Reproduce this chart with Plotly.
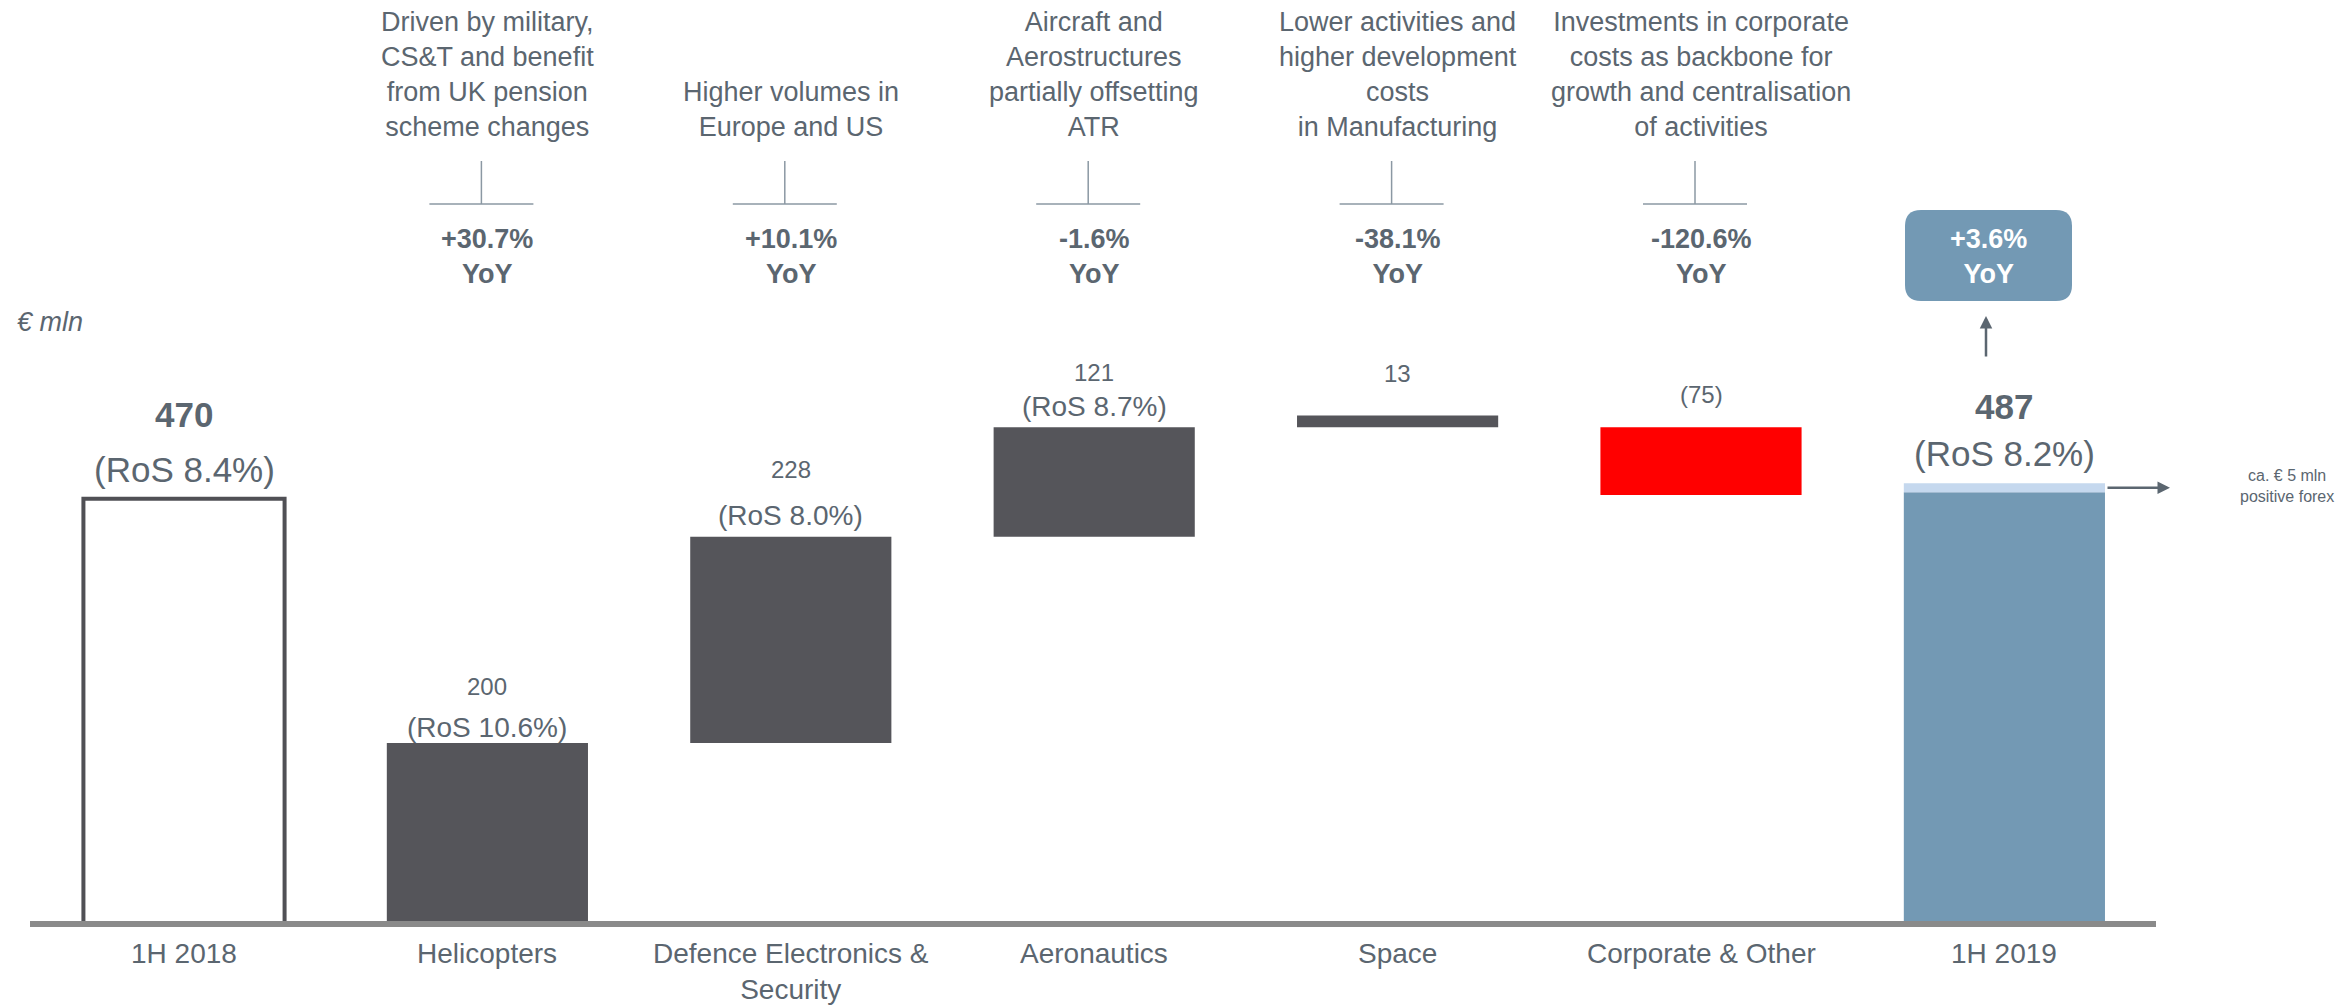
import plotly.graph_objects as go

# ---------------- data ----------------
categories = ["1H 2018", "Helicopters", "Defence Electronics & Security",
              "Aeronautics", "Space", "Corporate & Other", "1H 2019"]
cat_labels = ["1H 2018", "Helicopters", "Defence Electronics &<br>Security",
              "Aeronautics", "Space", "Corporate & Other", "1H 2019"]
start_value = 470
end_value = 487
forex_band = 10          # light band on top of 1H 2019 (as drawn)
delta_values = [200, 228, 121, 13, -75]
delta_bases = [0, 200, 428, 549, 549]
value_labels = ["470", "200", "228", "121", "13", "(75)", "487"]
ros_labels = ["(RoS 8.4%)", "(RoS 10.6%)", "(RoS 8.0%)", "(RoS 8.7%)", None, None, "(RoS 8.2%)"]
yoy_labels = [None, "+30.7%", "+10.1%", "-1.6%", "-38.1%", "-120.6%", "+3.6%"]
notes = [None,
         "Driven by military,<br>CS&T and benefit<br>from UK pension<br>scheme changes",
         "Higher volumes in<br>Europe and US",
         "Aircraft and<br>Aerostructures<br>partially offsetting<br>ATR",
         "Lower activities and<br>higher development<br>costs<br>in Manufacturing",
         "Investments in corporate<br>costs as backbone for<br>growth and centralisation<br>of activities",
         None]

# ---------------- style ----------------
W, H = 2336, 1007
FONT = "Liberation Sans, Arial, sans-serif"
TXT = "#5b6670"
DARK = "#55555a"
RED = "#ff0000"
BLUE = "#7399b4"
LIGHT = "#c5d8ee"
K = 0.905            # px per unit
BASE_PX = 924        # pixel row of zero
STEP = 303.4         # px between categories
X0_PX = 184          # px of first category centre

def px(x):
    return x / W

def py(y):
    return 1 - y / H

y0 = -(H - BASE_PX) / K
y1 = y0 + H / K
xmin = -X0_PX / STEP
xmax = xmin + W / STEP
BW = 0.663

fig = go.Figure()

# start bar
fig.add_trace(go.Bar(x=[categories[0]], y=[start_value], width=BW,
                     marker=dict(color="white", line=dict(color="#505055", width=4))))
# delta bars
fig.add_trace(go.Bar(x=categories[1:6], y=delta_values, base=delta_bases, width=BW,
                     marker=dict(color=[DARK, DARK, DARK, DARK, RED], line=dict(width=0))))
# end bar
fig.add_trace(go.Bar(x=[categories[6]], y=[end_value - forex_band], width=BW,
                     marker=dict(color=BLUE, line=dict(width=0))))
fig.add_trace(go.Bar(x=[categories[6]], y=[forex_band], base=[end_value - forex_band], width=BW,
                     marker=dict(color=LIGHT, line=dict(width=0))))

annotations = []
shapes = []

# bar tops
tops = [start_value] + [b + max(v, 0) for b, v in zip(delta_bases, delta_values)] + [end_value]
val_off = [84, 57, 67, 55, 42, 33, 77]
ros_off = [29, 16, 21, 21, None, None, 30]
for i, c in enumerate(categories):
    big = i in (0, 6)
    annotations.append(dict(x=c, y=tops[i], xref="x", yref="y", yshift=val_off[i],
                            text=("<b>%s</b>" % value_labels[i]) if big else value_labels[i],
                            showarrow=False, xanchor="center", yanchor="middle",
                            font=dict(size=35 if big else 24, color=TXT, family=FONT)))
    if ros_labels[i]:
        annotations.append(dict(x=c, y=tops[i], xref="x", yref="y", yshift=ros_off[i],
                                text=ros_labels[i], showarrow=False, xanchor="center",
                                yanchor="middle",
                                font=dict(size=35 if big else 28, color=TXT, family=FONT)))
    # category labels
    annotations.append(dict(x=c, y=py(936), xref="x", yref="paper", text=cat_labels[i],
                            showarrow=False, xanchor="center", yanchor="top",
                            font=dict(size=28, color=TXT, family=FONT)))
    # notes
    if notes[i]:
        annotations.append(dict(x=c, y=py(144), xref="x", yref="paper", text=notes[i],
                                showarrow=False, xanchor="center", yanchor="bottom",
                                font=dict(size=27, color=TXT, family=FONT)))
    # YoY
    if yoy_labels[i] and i < 6:
        annotations.append(dict(x=c, y=py(256), xref="x", yref="paper",
                                text="<b>%s<br>YoY</b>" % yoy_labels[i],
                                showarrow=False, xanchor="center", yanchor="middle",
                                font=dict(size=27, color=TXT, family=FONT)))
        xi = i - 6 / STEP
        shapes.append(dict(type="line", xref="x", yref="paper", x0=xi, x1=xi,
                           y0=py(161), y1=py(204), line=dict(color="#8b98a3", width=1.5)))
        shapes.append(dict(type="line", xref="x", yref="paper", x0=xi - 52 / STEP, x1=xi + 52 / STEP,
                           y0=py(204), y1=py(204), line=dict(color="#8b98a3", width=1.5)))

# +3.6% YoY rounded box
bx0, bx1, by0, by1, r = 1905, 2072, 210, 301, 16
path = (f"M {px(bx0 + r)} {py(by0)} L {px(bx1 - r)} {py(by0)} "
        f"Q {px(bx1)} {py(by0)} {px(bx1)} {py(by0 + r)} L {px(bx1)} {py(by1 - r)} "
        f"Q {px(bx1)} {py(by1)} {px(bx1 - r)} {py(by1)} L {px(bx0 + r)} {py(by1)} "
        f"Q {px(bx0)} {py(by1)} {px(bx0)} {py(by1 - r)} L {px(bx0)} {py(by0 + r)} "
        f"Q {px(bx0)} {py(by0)} {px(bx0 + r)} {py(by0)} Z")
shapes.append(dict(type="path", xref="paper", yref="paper", path=path,
                   fillcolor=BLUE, line=dict(width=0)))
annotations.append(dict(x=px(1988), y=py(256), xref="paper", yref="paper",
                        text="<b>%s<br>YoY</b>" % yoy_labels[6], showarrow=False,
                        xanchor="center", yanchor="middle", align="center",
                        font=dict(size=27, color="white", family=FONT)))
# arrow up to box
annotations.append(dict(x=px(1986), y=py(316), xref="paper", yref="paper", ax=0, ay=42,
                        text="", showarrow=True, arrowhead=2, arrowsize=1, arrowwidth=2.5,
                        arrowcolor=TXT))
# forex arrow
annotations.append(dict(x=px(2170), y=end_value - forex_band / 2, xref="paper", yref="y",
                        ax=-64, ay=0, text="", showarrow=True, arrowhead=2, arrowsize=1,
                        arrowwidth=2.5, arrowcolor=TXT))
annotations.append(dict(x=px(2287), y=py(486), xref="paper", yref="paper",
                        text="ca. € 5 mln<br>positive forex", showarrow=False,
                        xanchor="center", yanchor="middle", align="center",
                        font=dict(size=16, color=TXT, family=FONT)))
# € mln
annotations.append(dict(x=px(15), y=py(322), xref="paper", yref="paper", text="<i>€ mln</i>",
                        showarrow=False, xanchor="left", yanchor="middle",
                        font=dict(size=27, color=TXT, family=FONT)))

# baseline
shapes.append(dict(type="line", xref="paper", yref="y", x0=px(30), x1=px(2156), y0=0, y1=0,
                   line=dict(color="#8a8a8a", width=6), layer="above"))

fig.update_layout(
    width=W, height=H, margin=dict(l=0, r=0, t=0, b=0, pad=0),
    paper_bgcolor="white", plot_bgcolor="white", showlegend=False,
    barmode="overlay",
    xaxis=dict(type="category", categoryorder="array", categoryarray=categories,
               range=[xmin, xmax], visible=False, fixedrange=True),
    yaxis=dict(range=[y0, y1], visible=False, fixedrange=True),
    annotations=annotations, shapes=shapes,
    font=dict(family=FONT, color=TXT),
)

fig.write_html("out.html", post_script="document.body.style.margin='0';",
               config={"displayModeBar": False})
